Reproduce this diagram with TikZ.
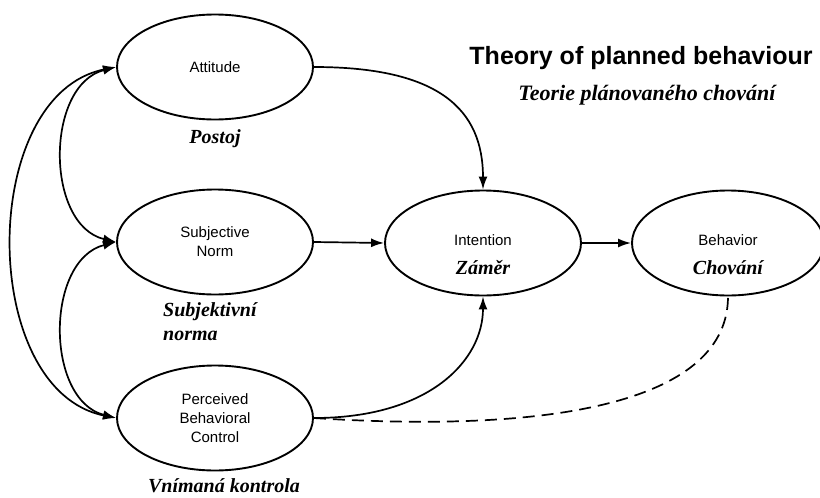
\documentclass[tikz,border=0pt]{standalone}
\usepackage{fontspec}
\usetikzlibrary{shapes.geometric,arrows.meta}
\newfontfamily\arialfont{Liberation Sans}
\newfontfamily\timesfont{Liberation Serif}
\tikzset{
  oval/.style = {ellipse, draw, line width=1.9pt, minimum width=196pt,
                 minimum height=105pt, inner sep=0pt, align=center,
                 font=\arialfont\fontsize{15}{19}\selectfont},
  cz/.style = {inner sep=0pt, anchor=base,
               font=\timesfont\bfseries\itshape\fontsize{20}{23.5}\selectfont},
  link/.style = {line width=1.7pt, -{Latex[length=13pt,width=9pt]}}
}

\begin{document}
\begin{tikzpicture}[x=1pt,y=-1pt]
	\def \xl{215}
	\def \xi{483}
	\def \xb{728}
	\useasboundingbox (0,0) rectangle (820,498);
	
	% Title
	\node[inner sep=0pt, anchor=base, font=\arialfont\bfseries\fontsize{25}{30}\selectfont] (title) at (641,64) {Theory of planned behaviour};
	\node[cz, font=\timesfont\bfseries\itshape\fontsize{22}{26}\selectfont] (titlecz) at (647,100) {Teorie plánovaného chování};
	
	% Ellipses
	\node[oval] (att) at (\xl,67) {Attitude};
	\node[oval] (sn) at (\xl,242) {Subjective\\Norm};
	\node[oval] (pbc) at (\xl,418) {Perceived\\Behavioral\\Control};
	\node[oval] (int) at (\xi,243) {};
	\node[oval, minimum width=192pt] (beh) at (\xb,243) {};
	
	% Names
	\node[inner sep=0pt, anchor=base, font=\arialfont\fontsize{15}{19}\selectfont] (inten) at (\xi,245) {Intention};
	\node[inner sep=0pt, anchor=base, font=\arialfont\fontsize{15}{19}\selectfont] (behen) at (\xb,245) {Behavior};
	\node[cz] (intcz) at (\xi,274) {Záměr};
	\node[cz] (behcz) at (\xb,274) {Chování};
	\node[cz] (attcz) at (\xl,143) {Postoj};
	\node[cz, anchor=base west, align=left] (sncz) at (163,340) {Subjektivní\\norma};
	\node[cz] (pbccz) at (224,492) {Vnímaná kontrola};
	
	% Arrows to intention and behavior
	\draw[link] (att.east) .. controls (440,67) and (\xi,110) .. (int.north);
	\draw[link] (sn.east) -- (int.west);
	\draw[link] (pbc.east) .. controls (430,418) and (\xi,360) .. (int.south);
	\draw[link] (int.east) -- (beh.west);
	\draw[line width=1.7pt, dash pattern=on 12pt off 7pt] (pbc.east) .. controls (560,434) and (\xb,400) .. (beh.south);
	
	% Correlations
	\draw[link, {Latex[length=13pt,width=9pt]}-{Latex[length=13pt,width=9pt]}] (att.west) .. controls (45,85) and (45,225) .. (sn.west);
	\draw[link, {Latex[length=13pt,width=9pt]}-{Latex[length=13pt,width=9pt]}] (sn.west) .. controls (45,260) and (45,400) .. (pbc.west);
	\draw[link, {Latex[length=13pt,width=9pt]}-{Latex[length=13pt,width=9pt]}] (att.west) .. controls (-22,95) and (-22,390) .. (pbc.west);
	
\end{tikzpicture}
\end{document}
